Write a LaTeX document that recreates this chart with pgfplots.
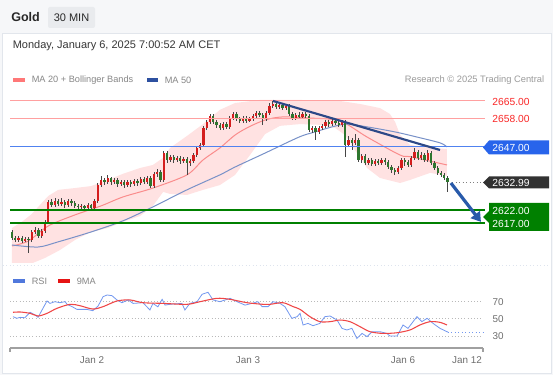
\documentclass[border=0pt]{standalone}
\usepackage{pgfplots}
\pgfplotsset{compat=1.18}
\usepackage{pgfplotstable}
\usetikzlibrary{arrows.meta}
\usepackage{fontspec}
\setmainfont{Liberation Sans}

\definecolor{bgcol}{RGB}{246,247,249}
\definecolor{framecol}{RGB}{226,230,236}
\definecolor{tagbg}{RGB}{233,235,238}
\definecolor{titcol}{RGB}{40,40,40}
\definecolor{subcol}{RGB}{55,55,55}
\definecolor{legcol}{RGB}{135,135,135}
\definecolor{rescol}{RGB}{155,155,155}
\definecolor{upcol}{RGB}{212,30,30}
\definecolor{dncol}{RGB}{46,118,46}
\definecolor{wickcol}{RGB}{70,70,70}
\definecolor{bandfill}{RGB}{255,226,226}
\definecolor{ma20col}{RGB}{250,140,140}
\definecolor{ma50col}{RGB}{120,145,200}
\definecolor{hlred}{RGB}{255,160,160}
\definecolor{hlblue}{RGB}{80,130,240}
\definecolor{hlgreen}{RGB}{0,128,0}
\definecolor{trendcol}{RGB}{45,72,135}
\definecolor{arrowcol}{RGB}{40,90,170}
\definecolor{tagblue}{RGB}{40,100,235}
\definecolor{tagdark}{RGB}{50,50,50}
\definecolor{taggreen}{RGB}{0,128,0}
\definecolor{lblred}{RGB}{250,40,40}
\definecolor{rsicol}{RGB}{115,152,240}
\definecolor{rsimacol}{RGB}{240,70,70}
\definecolor{gridgray}{RGB}{185,185,185}
\definecolor{axgray}{RGB}{160,160,160}
\definecolor{labgray}{RGB}{110,110,110}
\definecolor{legfifty}{RGB}{45,80,160}
\definecolor{legtwenty}{RGB}{255,120,120}
\definecolor{legrsi}{RGB}{80,120,220}
\definecolor{legrsima}{RGB}{230,20,20}
\definecolor{sepcol}{RGB}{222,228,238}

\newcommand{\fs}[1]{\fontsize{#1}{#1}\selectfont}

\pgfplotstableread{
i o h l c
0 2613.4 2614.2 2610.3 2611.1
1 2611.1 2611.9 2609.5 2610.3
2 2610.3 2611.9 2609.5 2611.1
3 2611.1 2611.9 2609.1 2609.9
4 2609.9 2611.5 2609.5 2610.7
5 2610.7 2611.5 2605.2 2610.3
6 2610.3 2614.2 2609.5 2613.4
7 2613.4 2615.4 2612.6 2614.2
8 2614.2 2615.0 2611.1 2611.9
9 2611.9 2614.6 2611.1 2613.8
10 2613.8 2618.1 2613.0 2617.4
11 2617.4 2626.0 2616.6 2625.2
12 2625.2 2626.4 2623.3 2624.1
13 2624.1 2626.8 2623.3 2625.6
14 2625.6 2626.4 2623.7 2624.4
15 2624.4 2626.8 2623.7 2625.2
16 2625.2 2626.0 2622.9 2624.1
17 2624.1 2626.4 2623.3 2625.6
18 2625.6 2626.4 2623.7 2624.8
19 2624.8 2625.6 2622.9 2623.7
20 2623.7 2624.4 2622.1 2623.3
21 2623.3 2624.4 2622.5 2623.7
22 2623.7 2624.1 2622.1 2622.9
23 2622.9 2624.8 2622.1 2624.1
24 2624.1 2624.4 2621.7 2622.9
25 2622.9 2626.4 2622.1 2625.6
26 2625.6 2632.7 2624.8 2631.9
27 2631.9 2635.5 2631.1 2633.9
28 2633.9 2634.7 2631.9 2633.1
29 2633.1 2635.9 2632.3 2634.7
30 2634.7 2635.1 2631.9 2633.1
31 2633.1 2634.7 2632.3 2633.9
32 2633.9 2634.7 2631.1 2632.3
33 2632.3 2633.9 2631.5 2633.1
34 2633.1 2633.9 2630.7 2631.9
35 2631.9 2633.9 2631.1 2633.1
36 2633.1 2633.9 2631.1 2632.3
37 2632.3 2634.3 2631.5 2633.5
38 2633.5 2634.3 2631.5 2632.7
39 2632.7 2635.1 2631.9 2634.3
40 2634.3 2635.1 2632.3 2633.1
41 2633.1 2635.5 2632.3 2634.7
42 2634.7 2635.5 2630.7 2631.5
43 2631.5 2637.0 2630.7 2636.3
44 2636.3 2638.2 2635.1 2637.0
45 2637.0 2637.8 2633.1 2633.9
46 2633.9 2645.3 2633.1 2644.5
47 2644.5 2645.3 2640.6 2641.8
48 2641.8 2643.7 2641.0 2643.0
49 2643.0 2643.7 2640.6 2641.8
50 2641.8 2643.3 2641.0 2642.6
51 2642.6 2643.3 2640.2 2641.4
52 2641.4 2643.0 2640.6 2642.2
53 2642.2 2643.0 2635.9 2640.6
54 2640.6 2642.2 2639.4 2641.4
55 2641.4 2644.5 2640.6 2643.7
56 2643.7 2647.3 2643.0 2646.5
57 2646.5 2648.5 2645.7 2647.7
58 2647.7 2655.2 2646.9 2654.4
59 2654.4 2657.5 2653.6 2656.7
60 2656.7 2659.9 2655.9 2659.1
61 2659.1 2659.9 2655.9 2656.7
62 2656.7 2657.5 2654.4 2655.6
63 2655.6 2656.3 2653.6 2654.4
64 2654.4 2656.7 2653.6 2655.9
65 2655.9 2656.7 2654.0 2654.8
66 2654.8 2659.1 2654.0 2658.3
67 2658.3 2660.7 2657.5 2659.9
68 2659.9 2660.7 2657.1 2657.9
69 2657.9 2658.7 2656.3 2657.1
70 2657.1 2659.1 2656.3 2658.3
71 2658.3 2659.1 2656.3 2657.1
72 2657.1 2658.7 2656.7 2657.9
73 2657.9 2659.9 2657.1 2659.1
74 2659.1 2661.1 2658.3 2660.3
75 2660.3 2661.1 2658.7 2659.5
76 2659.5 2660.3 2655.6 2657.9
77 2657.9 2661.1 2657.1 2660.3
78 2660.3 2664.2 2659.5 2663.0
79 2663.0 2665.0 2662.2 2663.8
80 2663.8 2664.6 2661.9 2662.6
81 2662.6 2664.2 2661.9 2663.4
82 2663.4 2664.2 2661.5 2662.2
83 2662.2 2663.8 2661.5 2663.0
84 2663.0 2663.8 2659.1 2659.9
85 2659.9 2660.7 2657.5 2658.3
86 2658.3 2660.3 2657.5 2659.5
87 2659.5 2660.7 2657.9 2658.7
88 2658.7 2660.7 2657.9 2659.9
89 2659.9 2660.7 2658.3 2659.1
90 2659.1 2659.9 2652.8 2653.6
91 2653.6 2655.2 2652.4 2654.4
92 2654.4 2655.2 2649.6 2652.8
93 2652.8 2655.2 2652.0 2654.4
94 2654.4 2655.9 2653.6 2655.2
95 2655.2 2657.5 2654.4 2656.7
96 2656.7 2657.5 2654.8 2655.9
97 2655.9 2657.9 2655.2 2657.1
98 2657.1 2657.9 2655.6 2656.3
99 2656.3 2657.1 2654.8 2655.6
100 2655.6 2657.5 2654.8 2656.7
101 2656.7 2657.5 2643.0 2647.7
102 2647.7 2651.2 2646.9 2649.6
103 2649.6 2650.4 2645.7 2648.5
104 2648.5 2652.0 2647.7 2649.6
105 2649.6 2650.4 2641.0 2641.8
106 2641.8 2644.1 2640.6 2643.3
107 2643.3 2644.1 2639.8 2640.6
108 2640.6 2642.6 2639.8 2641.8
109 2641.8 2642.6 2639.4 2640.2
110 2640.2 2642.2 2639.4 2641.4
111 2641.4 2642.2 2639.8 2640.6
112 2640.6 2642.6 2639.8 2641.8
113 2641.8 2642.6 2639.8 2641.0
114 2641.0 2641.8 2638.2 2639.0
115 2639.0 2639.8 2636.7 2637.8
116 2637.8 2638.6 2635.9 2637.0
117 2637.0 2639.4 2636.3 2638.6
118 2638.6 2642.6 2637.8 2641.8
119 2641.8 2642.6 2639.4 2641.0
120 2641.0 2641.8 2639.0 2639.8
121 2639.8 2643.3 2639.0 2642.6
122 2642.6 2646.5 2641.8 2644.9
123 2644.9 2645.7 2641.8 2642.6
124 2642.6 2644.9 2641.8 2643.7
125 2643.7 2644.5 2641.0 2641.8
126 2641.8 2645.7 2641.0 2644.5
127 2644.5 2645.3 2639.8 2640.6
128 2640.6 2641.4 2637.8 2638.6
129 2638.6 2639.4 2635.9 2636.7
130 2636.7 2637.4 2635.1 2635.9
131 2635.9 2636.7 2633.9 2634.7
132 2634.7 2635.5 2629.2 2632.99
}\candles

% Bollinger band outline: upper band left to right, then lower band right to left
\pgfplotstableread{
i v
0 2615.0
3 2617.4
6 2620.5
9 2624.8
11 2627.6
14 2630.0
19 2630.7
24 2631.5
29 2633.9
33.6 2636.3
38.8 2638.6
42.7 2639.8
45.8 2642.6
47.9 2646.5
53.0 2651.2
57.9 2655.9
63.0 2661.5
67.6 2664.2
75.2 2665.4
87.3 2665.4
99.4 2665.0
105.5 2663.8
111.5 2662.2
114.5 2659.9
116.1 2656.7
117.6 2651.6
120.6 2647.7
126.7 2646.5
131.8 2646.1
131.8 2635.5
126.7 2636.7
120.6 2633.9
117.6 2632.7
111.5 2634.7
107.6 2638.6
103.9 2645.7
100.9 2651.6
97.9 2654.4
93.3 2655.6
87.3 2655.9
81.2 2655.2
76.7 2652.0
72.1 2643.7
67.6 2635.9
63.0 2631.9
57.9 2630.0
53.0 2628.0
47.9 2628.4
45.8 2629.2
42.7 2623.7
38.8 2619.7
33.6 2617.4
29.1 2615.0
23.9 2613.4
19.1 2610.3
14.5 2606.3
10 2603.2
5.5 2600.8
0 2599.3
}\band

\pgfplotstableread{
i v
0 2607.9
5 2609.9
11 2615.8
19 2620.1
27 2623.7
33.6 2627.2
42.7 2630.7
53.0 2635.9
57.9 2641.8
63.0 2646.5
67.6 2651.6
71.8 2654.8
76.7 2657.5
81.8 2658.7
90.0 2658.3
99.4 2657.1
107.6 2650.8
117.6 2643.7
120.9 2643.0
131.8 2639.8
}\matwenty

\pgfplotstableread{
i v
0 2608.3
7.9 2607.5
13.9 2609.5
23.9 2613.4
33.6 2617.8
42.7 2623.3
53.0 2630.0
63.0 2635.9
67.6 2639.0
76.7 2644.5
87.0 2650.8
91.8 2652.8
97.0 2654.8
101.5 2655.9
107.6 2654.8
116.1 2652.8
122.7 2650.8
129.7 2648.5
131.8 2646.9
}\mafifty

\pgfplotstableread{
i r
0.3 52.5
1.5 50.6
2.4 51.7
3.9 51.3
5.5 57.6
7.0 54.5
7.9 51.7
9.1 60.3
10.6 70.8
11.5 68.0
13.0 70.0
14.5 68.8
16.1 70.0
16.7 66.9
18.2 64.2
19.7 61.0
22.7 61.0
24.5 59.5
26.1 65.0
27.6 75.8
28.8 77.8
30.3 77.0
31.8 72.0
33.3 68.8
35.2 72.0
36.7 68.0
39.7 68.8
41.8 60.3
42.7 68.0
44.2 64.0
45.5 72.7
46.4 66.0
47.9 67.0
51.5 68.0
52.4 60.3
53.9 68.0
56.1 70.0
57.6 78.6
59.4 80.9
60.9 72.0
63.0 70.0
66.1 73.9
68.2 70.0
70.6 66.0
72.7 68.0
74.5 70.0
75.8 64.2
77.6 64.2
79.1 70.0
81.2 68.0
82.7 64.2
84.8 50.6
86.4 52.5
87.3 56.4
88.2 42.8
89.7 44.7
91.2 42.0
93.3 44.7
94.8 52.5
96.4 53.3
97.3 51.3
98.5 48.6
100.0 38.9
101.5 37.0
103.0 38.9
104.5 27.2
106.1 33.0
107.6 29.2
109.1 35.0
111.5 35.0
113.6 33.0
114.5 30.0
116.7 30.0
118.5 42.8
120.0 38.9
122.7 52.5
124.2 46.7
125.8 50.6
127.6 44.7
129.7 38.9
132.1 34.5
}\rsi

\pgfplotstableread{
i r
0.3 57.6
2.4 58.0
5.5 56.4
7.9 53.3
10.6 56.4
13.6 62.2
17.6 66.9
20.6 65.3
24.5 61.4
27.6 64.2
31.8 70.8
35.8 72.0
39.7 68.8
45.8 68.0
53.0 66.9
57.0 70.0
62.1 73.9
66.1 72.7
71.2 68.8
76.1 66.9
78.2 66.9
82.1 68.8
85.2 64.2
87.3 61.0
90.3 52.5
93.3 46.7
96.4 46.7
99.4 48.6
102.4 46.7
105.5 40.8
108.5 35.0
112.4 33.0
116.7 33.8
120.6 37.0
123.6 42.8
126.7 46.7
129.7 45.9
131.8 42.8
}\rsima

\begin{document}
\begin{tikzpicture}
% ---------- background and frame ----------
\fill[bgcol] (0,0) rectangle (414.75pt,281.25pt);
\begin{scope}[yshift=281.25pt, x=0.75pt, y=-0.75pt]
  \filldraw[fill=white, draw=framecol, line width=0.5pt] (2,33) rectangle (551,373);
  \draw[sepcol, dotted, line width=0.6pt] (3,265) -- (550,265);
  \node[anchor=west, inner sep=0pt, text=titcol, font=\fs{9.4}\bfseries] at (11,17.5) {Gold};
  \fill[tagbg, rounded corners=1.5pt] (48,7) rectangle (95,28);
  \node[inner sep=0pt, text=titcol, font=\fs{8.25}] at (71.5,17.5) {30 MIN};
  \node[anchor=west, inner sep=0pt, text=subcol, font=\fs{8.25}] at (12.5,45.5) {Monday, January 6, 2025 7:00:52 AM CET};
  % price legend
  \fill[legtwenty] (13,78.5) rectangle (25,82.5);
  \node[anchor=west, inner sep=0pt, text=legcol, font=\fs{6.9}] at (31.5,80.5) {MA 20 + Bollinger Bands};
  \fill[legfifty] (147,78.5) rectangle (158,82.5);
  \node[anchor=west, inner sep=0pt, text=legcol, font=\fs{6.9}] at (164.5,80.5) {MA 50};
  \node[anchor=east, inner sep=0pt, text=rescol, font=\fs{7}] at (544.5,80.5) {Research © 2025 Trading Central};
  % rsi legend
  \fill[legrsi] (13,279) rectangle (25,283);
  \node[anchor=west, inner sep=0pt, text=legcol, font=\fs{6.9}] at (31.5,281) {RSI};
  \fill[legrsima] (58,279) rectangle (70,283);
  \node[anchor=west, inner sep=0pt, text=legcol, font=\fs{6.9}] at (76.5,281) {9MA};
\end{scope}

% ---------- price panel (clipped) ----------
\begin{axis}[
  at={(7.5pt,84.75pt)}, anchor=south west, scale only axis,
  width=356.25pt, height=130.5pt,
  xmin=-0.606, xmax=143.33, ymin=2601.6, ymax=2670.1,
  hide axis,
]
\addplot[fill=bandfill, draw=none, forget plot] table[x=i,y=v]{\band} -- cycle;
\addplot[ma20col, line width=0.75pt, smooth, forget plot] table[x=i,y=v]{\matwenty};
\addplot[ma50col, line width=0.75pt, smooth, forget plot] table[x=i,y=v]{\mafifty};
% wicks
\addplot[draw=none, mark=none, forget plot,
  error bars/.cd, y dir=both, y explicit, error mark=none,
  error bar style={color=wickcol, line width=0.55pt, solid}]
  table[x=i, y expr={0.5*(\thisrow{h}+\thisrow{l})}, y error expr={0.5*(\thisrow{h}-\thisrow{l})}]{\candles};
% rising bodies
\addplot[draw=none, mark=none, forget plot,
  error bars/.cd, y dir=both, y explicit, error mark=none,
  error bar style={color=upcol, line width=1.7pt, solid}]
  table[x=i, y expr={0.5*(\thisrow{o}+\thisrow{c})}, y error expr={0.5*max(\thisrow{c}-\thisrow{o},0)}]{\candles};
% falling bodies
\addplot[draw=none, mark=none, forget plot,
  error bars/.cd, y dir=both, y explicit, error mark=none,
  error bar style={color=dncol, line width=1.7pt, solid}]
  table[x=i, y expr={0.5*(\thisrow{o}+\thisrow{c})}, y error expr={0.5*max(\thisrow{o}-\thisrow{c},0)}]{\candles};
\end{axis}

% ---------- price panel overlay (levels, trend line, arrow) ----------
\begin{axis}[
  at={(7.5pt,84.75pt)}, anchor=south west, scale only axis,
  width=356.25pt, height=130.5pt,
  xmin=-0.606, xmax=143.33, ymin=2601.6, ymax=2670.1,
  hide axis, clip=false,
]
\addplot[hlred, line width=0.7pt] coordinates {(-0.606,2665) (143.33,2665)};
\addplot[hlred, line width=0.7pt] coordinates {(-0.606,2658) (143.33,2658)};
\addplot[hlblue, line width=0.8pt] coordinates {(-0.606,2647) (143.33,2647)};
\addplot[hlgreen, line width=1.5pt] coordinates {(-0.606,2622) (143.33,2622)};
\addplot[hlgreen, line width=1.5pt] coordinates {(-0.606,2617) (143.33,2617)};
\addplot[gray, dotted, line width=0.6pt] coordinates {(133.4,2632.99) (143.33,2632.99)};
\addplot[trendcol, line width=1.6pt] coordinates {(79.1,2665.0) (129.7,2645.7)};
\addplot[arrowcol, line width=2.4pt, -{Triangle[length=7pt,width=8.5pt]}] coordinates {(133.0,2632.7) (142.1,2617.4)};
\end{axis}

% ---------- RSI panel ----------
\begin{axis}[
  at={(7.5pt,20.25pt)}, anchor=south west, scale only axis,
  width=354.75pt, height=43.5pt,
  xmin=-0.606, xmax=142.73, ymin=16, ymax=83.6,
  axis x line*=bottom, axis y line*=right,
  x axis line style={draw=axgray, line width=0.8pt, -},
  y axis line style={draw=none},
  major tick length=0pt,
  xtick={24.24,71.52,118.48,137.88},
  xticklabels={Jan 2,Jan 3,Jan 6,Jan 12},
  ytick={30,50,70},
  ymajorgrids, grid style={draw=gridgray, dotted, line width=0.6pt},
  tick label style={font=\fs{7.4}, text=labgray},
  xticklabel style={anchor=north, inner sep=0pt, yshift=-6pt},
  yticklabel style={anchor=west, inner sep=0pt, xshift=7pt},
  /pgf/number format/assume math mode=true,
  clip=false,
]
\addplot[rsicol, line width=0.6pt] table[x=i,y=r]{\rsi};
\addplot[rsicol, line width=0.6pt, dotted] coordinates {(132.1,34.5) (142.73,34.5)};
\addplot[rsimacol, line width=0.8pt, smooth] table[x=i,y=r]{\rsima};
\draw[axgray, line width=0.8pt] (rel axis cs:0,0) -- ++(0pt,-3pt);
\draw[axgray, line width=0.8pt] (rel axis cs:1,0) -- ++(0pt,-3pt);
\end{axis}

% ---------- right-hand price tags ----------
\begin{scope}[yshift=281.25pt, x=0.75pt, y=-0.75pt]
  \node[inner sep=0pt, text=lblred, font=\fs{7.7}] at (511,101.5) {2665.00};
  \node[inner sep=0pt, text=lblred, font=\fs{7.7}] at (511,118.5) {2658.00};
  \fill[tagblue] (483,147.5) -- (489,140.5) -- (549,140.5) -- (549,154.5) -- (489,154.5) -- cycle;
  \node[inner sep=0pt, text=white, font=\fs{7.7}] at (511,147.5) {2647.00};
  \fill[tagdark] (483,182.5) -- (489,176.5) -- (549,176.5) -- (549,188.5) -- (489,188.5) -- cycle;
  \node[inner sep=0pt, text=white, font=\fs{7.7}] at (511,182.5) {2632.99};
  \fill[taggreen] (489,203) -- (549,203) -- (549,231) -- (489,231) -- (489,223) -- (483,217) -- (489,211) -- cycle;
  \node[inner sep=0pt, text=white, font=\fs{7.7}] at (511,210.5) {2622.00};
  \node[inner sep=0pt, text=white, font=\fs{7.7}] at (511,223.5) {2617.00};
\end{scope}
\end{tikzpicture}
\end{document}
